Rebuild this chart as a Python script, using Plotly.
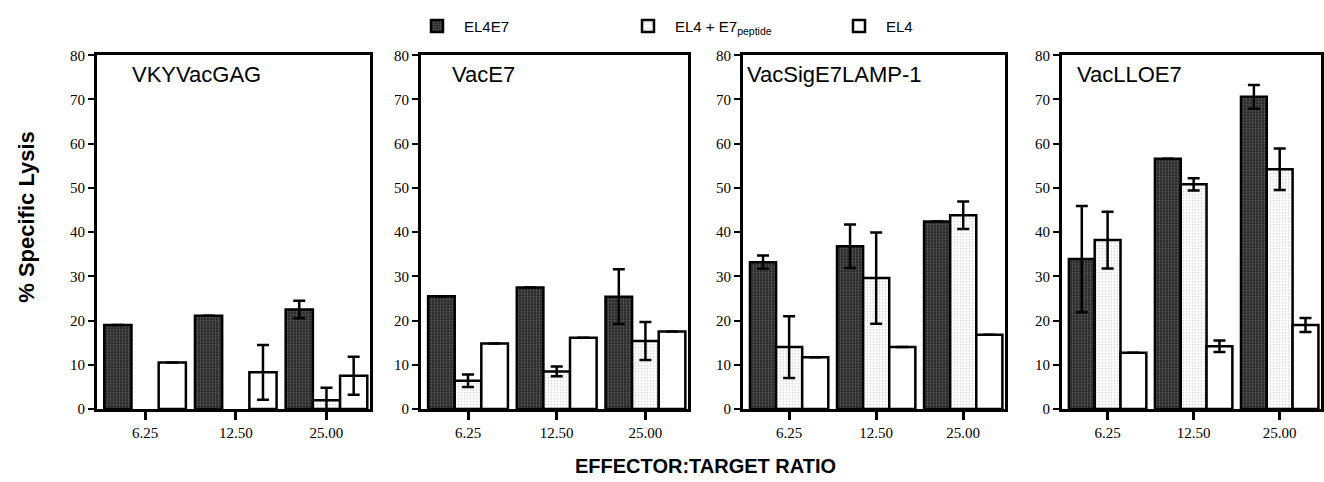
import plotly.graph_objects as go
from plotly.subplots import make_subplots

ratios = ["6.25", "12.50", "25.00"]
panel_titles = ["VKYVacGAG", "VacE7", "VacSigE7LAMP-1", "VacLLOE7"]
series_names = ["EL4E7", "EL4 + E7<sub>peptide</sub>", "EL4"]

# values per panel: [EL4E7, EL4+E7peptide, EL4]
vky_el4e7 = [19.0, 21.1, 22.5]
vky_pep = [None, None, 2.0]
vky_el4 = [10.5, 8.3, 7.5]
vky_el4e7_err = [None, None, 2.0]
vky_pep_err = [None, None, 2.8]
vky_el4_err = [None, 6.2, 4.3]

vace7_el4e7 = [25.5, 27.5, 25.4]
vace7_pep = [6.4, 8.5, 15.4]
vace7_el4 = [14.8, 16.1, 17.5]
vace7_el4e7_err = [None, None, 6.2]
vace7_pep_err = [1.4, 1.1, 4.3]
vace7_el4_err = [None, None, None]

sig_el4e7 = [33.2, 36.8, 42.4]
sig_pep = [14.0, 29.6, 43.8]
sig_el4 = [11.7, 14.0, 16.8]
sig_el4e7_err = [1.5, 4.9, None]
sig_pep_err = [7.0, 10.3, 3.1]
sig_el4_err = [None, None, None]

llo_el4e7 = [33.9, 56.6, 70.6]
llo_pep = [38.2, 50.8, 54.2]
llo_el4 = [12.7, 14.2, 19.0]
llo_el4e7_err = [12.0, None, 2.7]
llo_pep_err = [6.4, 1.4, 4.7]
llo_el4_err = [None, 1.3, 1.6]

yticks = [0, 10, 20, 30, 40, 50, 60, 70, 80]

panels = [
    (vky_el4e7, vky_pep, vky_el4, vky_el4e7_err, vky_pep_err, vky_el4_err),
    (vace7_el4e7, vace7_pep, vace7_el4, vace7_el4e7_err, vace7_pep_err, vace7_el4_err),
    (sig_el4e7, sig_pep, sig_el4, sig_el4e7_err, sig_pep_err, sig_el4_err),
    (llo_el4e7, llo_pep, llo_el4, llo_el4e7_err, llo_pep_err, llo_el4_err),
]

W, H = 1324, 482
# observed vertical mapping of the rendered page: pixel = 5.3 + (1 - f) * 470.3
def fy(px):
    return 1 - (px - 5.3) / 470.3

x_px = [(97, 370), (421, 688), (743, 1005), (1062, 1321)]
y_dom = [fy(410), fy(53)]

styles = [
    dict(color="#2a2a2a", pattern=dict(shape=".", fgcolor="#9a9a9a", bgcolor="#262626", size=3, solidity=0.35)),
    dict(color="#f0f0f0", pattern=dict(shape=".", fgcolor="#a0a0a0", bgcolor="#ffffff", size=3, solidity=0.25)),
    dict(color="#ffffff"),
]

fig = make_subplots(rows=1, cols=4)

for i, p in enumerate(panels):
    vals = p[:3]
    errs = p[3:]
    for s in range(3):
        marker = dict(line=dict(color="black", width=2.5))
        marker.update(styles[s])
        ev = [e if e is not None else 0 for e in errs[s]]
        fig.add_trace(
            go.Bar(
                x=ratios,
                y=vals[s],
                name=series_names[s],
                marker=marker,
                error_y=dict(type="data", array=ev, visible=True, color="black", thickness=2.5, width=6),
                showlegend=(i == 0),
                legendgroup=str(s),
            ),
            row=1,
            col=i + 1,
        )

axis_font = dict(family="Liberation Serif", size=15, color="black")
for i in range(4):
    xn = "xaxis" if i == 0 else f"xaxis{i+1}"
    yn = "yaxis" if i == 0 else f"yaxis{i+1}"
    fig.layout[xn].update(
        domain=[x_px[i][0] / W, x_px[i][1] / W],
        type="category",
        range=[-0.53, 2.48],
        showline=True, linecolor="black", linewidth=3, mirror=True,
        ticks="outside", ticklen=8, tickwidth=2.5, tickcolor="black",
        tickfont=axis_font, showgrid=False, zeroline=False,
    )
    fig.layout[yn].update(
        domain=y_dom,
        range=[0, 80],
        tickvals=yticks,
        showline=True, linecolor="black", linewidth=3, mirror=True,
        ticks="outside", ticklen=6, tickwidth=2, tickcolor="black",
        tickfont=axis_font, showgrid=False, zeroline=False,
    )

title_x = [130, 450, 745, 1075]
annotations = []
for i, t in enumerate(panel_titles):
    annotations.append(dict(
        text=t, x=title_x[i] / W, y=fy(72), xref="paper", yref="paper",
        xanchor="left", yanchor="middle", showarrow=False,
        font=dict(family="Liberation Sans", size=22, color="black"),
    ))
annotations.append(dict(
    text="<b>% Specific Lysis</b>", x=27 / W, y=fy(216), xref="paper", yref="paper",
    textangle=-90, showarrow=False, xanchor="center", yanchor="middle",
    font=dict(family="Liberation Sans", size=22, color="black"),
))
annotations.append(dict(
    text="<b>EFFECTOR:TARGET RATIO</b>", x=706 / W, y=fy(468), xref="paper", yref="paper",
    showarrow=False, xanchor="center", yanchor="middle",
    font=dict(family="Liberation Sans", size=20, color="black"),
))

fig.update_layout(
    width=W, height=H,
    margin=dict(l=0, r=0, t=0, b=0),
    paper_bgcolor="white", plot_bgcolor="white",
    barmode="group", bargap=0.1, bargroupgap=0.0,
    annotations=annotations,
    legend=dict(
        orientation="h", x=410 / W, y=fy(7), xanchor="left", yanchor="top",
        entrywidth=152, entrywidthmode="pixels", itemwidth=44,
        font=dict(family="Liberation Sans", size=15, color="black"),
        bgcolor="rgba(0,0,0,0)",
    ),
)

fig.write_html(
    "out.html",
    config={"displayModeBar": False},
    post_script="document.body.style.margin='0';document.body.style.overflow='hidden';",
)
